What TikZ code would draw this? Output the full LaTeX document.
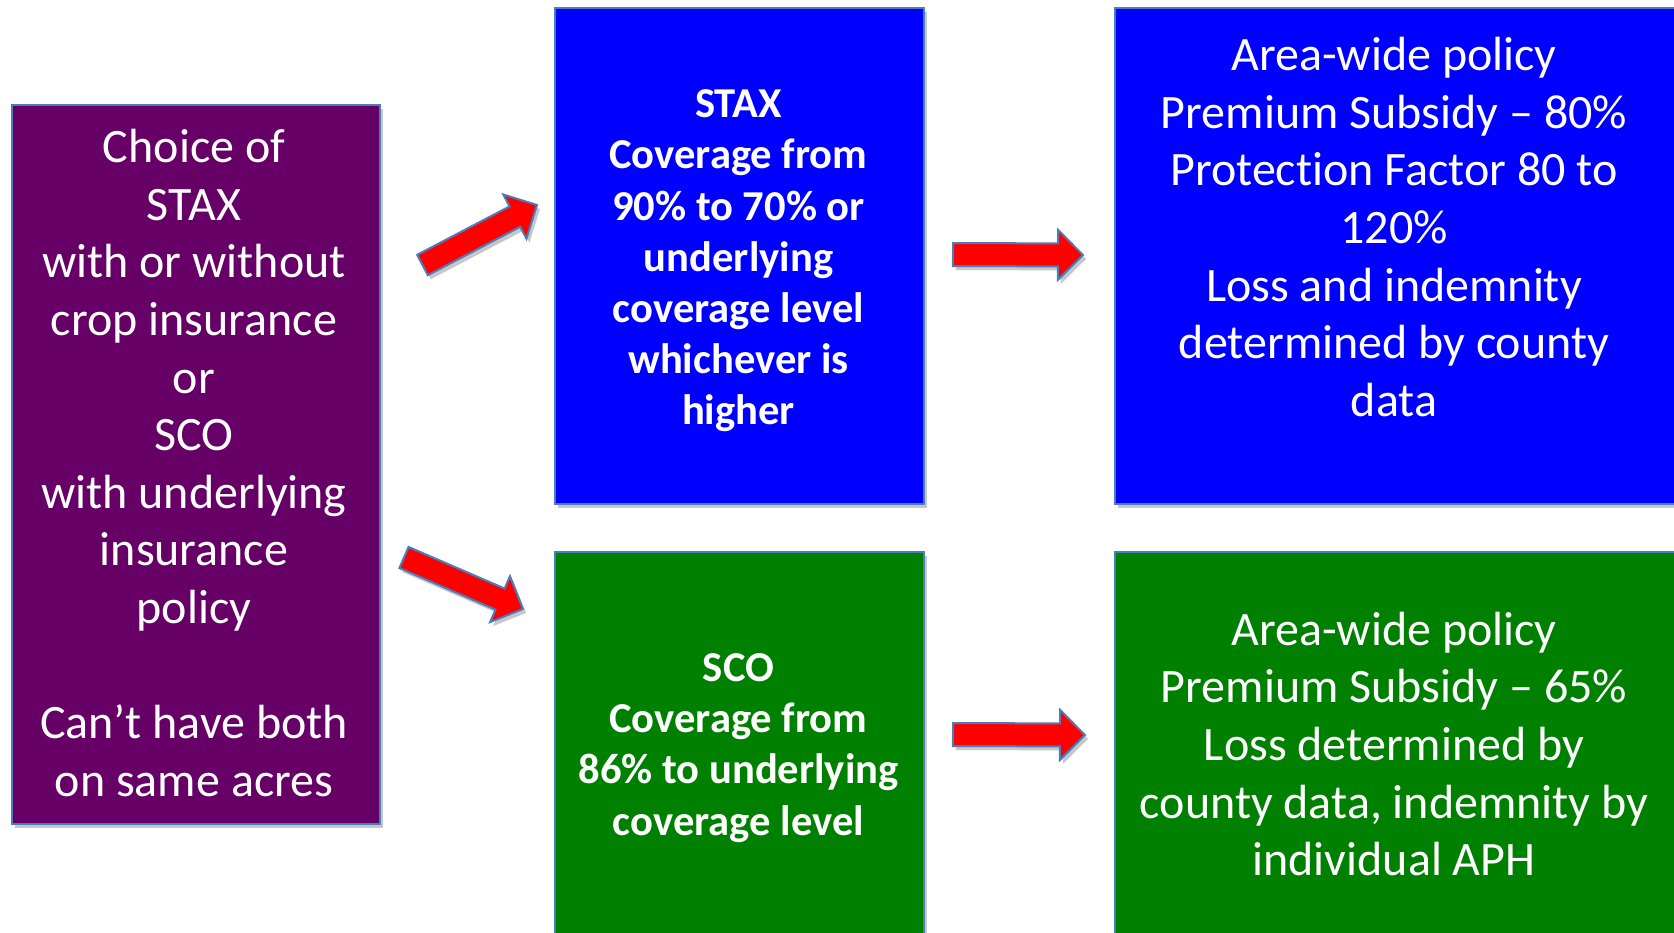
\documentclass[tikz,border=0pt]{standalone}
\usepackage{fontspec}
\setmainfont[Ligatures=NoCommon]{Carlito}
\usetikzlibrary{calc,shadows}
\definecolor{boxpurple}{HTML}{660066}
\definecolor{boxblue}{HTML}{0000FF}
\definecolor{boxgreen}{HTML}{008000}
\definecolor{edgeblue}{HTML}{4A7EBB}
\definecolor{arrowred}{HTML}{FF0000}
\tikzset{
  box/.style={draw=edgeblue, line width=1pt, inner sep=0pt, anchor=north west,
    drop shadow={shadow xshift=1.5pt, shadow yshift=-2pt, opacity=0.22, fill=black}},
  bigtext/.style={text=white, align=center, font=\fontsize{24}{28.8}\selectfont},
  boldtext/.style={text=white, align=center, font=\fontsize{21.3}{25.6}\selectfont\bfseries},
  blockarrow/.style={fill=arrowred, draw=edgeblue, line width=1pt, line join=miter,
    drop shadow={shadow xshift=1.5pt, shadow yshift=-2pt, opacity=0.22, fill=black}}
}
\newcommand\fatarrow[2]{%
  \path[blockarrow]
    ($(#1)!5.75pt!90:(#2)$) --
    ($($(#2)!12.5pt!(#1)$)!5.75pt!90:(#2)$) --
    ($($(#2)!12.5pt!(#1)$)!12.5pt!90:(#2)$) --
    (#2) --
    ($($(#2)!12.5pt!(#1)$)!12.5pt!-90:(#2)$) --
    ($($(#2)!12.5pt!(#1)$)!5.75pt!-90:(#2)$) --
    ($(#1)!5.75pt!-90:(#2)$) -- cycle;}
\begin{document}
\begin{tikzpicture}[x=0.5pt, y=-0.5pt]
\useasboundingbox (0,0) rectangle (1674,932);
\begin{scope}
\clip (0,0) rectangle (1674,932);
% boxes
\node[box, fill=boxpurple, minimum width=184pt, minimum height=359.5pt] (choice) at (11,104) {};
\node[box, fill=boxblue, minimum width=184.5pt, minimum height=248pt] (stax) at (554,7) {};
\node[box, fill=boxblue, minimum width=290pt, minimum height=248pt] (staxinfo) at (1114,7) {};
\node[box, fill=boxgreen, minimum width=184.5pt, minimum height=196pt] (sco) at (554,551) {};
\node[box, fill=boxgreen, minimum width=290pt, minimum height=196pt] (scoinfo) at (1114,551) {};
% texts
\node[bigtext] (choicetext) at (194,463) {Choice of\\STAX\\with or without\\crop insurance\\or\\SCO\\with underlying\\insurance\\policy\\\strut\\Can’t have both\\on same acres};
\node[boldtext] (staxtext) at (738.5,261) {STAX\\Coverage from\\90\% to 70\% or\\underlying\\coverage level\\whichever is\\higher};
\node[bigtext] (staxinfotext) at (1394,227) {Area-wide policy\\Premium Subsidy – 80\%\\Protection Factor 80 to\\120\%\\Loss and indemnity\\determined by county\\data};
\node[boldtext] (scotext) at (738.5,748) {SCO\\Coverage from\\86\% to underlying\\coverage level};
\node[bigtext] (scoinfotext) at (1394,744) {Area-wide policy\\Premium Subsidy – 65\%\\Loss determined by\\county data, indemnity by\\individual APH};
% arrows
\coordinate (a1s) at (422.5,265);
\coordinate (a1e) at (537,205);
\coordinate (a2s) at (404,557.5);
\coordinate (a2e) at (523,609);
\coordinate (a3s) at (953,254.5);
\coordinate (a3e) at (1083,255);
\coordinate (a4s) at (953,734.5);
\coordinate (a4e) at (1085,735);
\fatarrow{a1s}{a1e}
\fatarrow{a2s}{a2e}
\fatarrow{a3s}{a3e}
\fatarrow{a4s}{a4e}
\end{scope}
\end{tikzpicture}
\end{document}
